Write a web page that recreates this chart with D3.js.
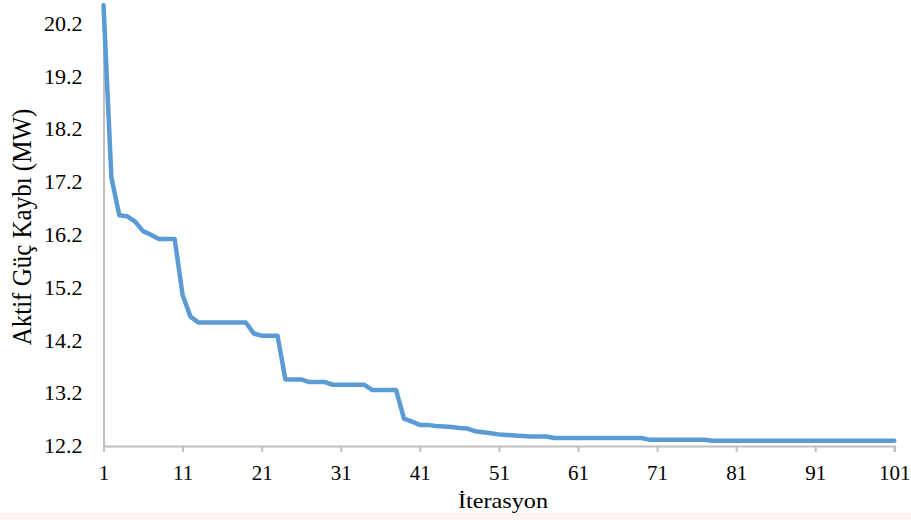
<!DOCTYPE html>
<html>
<head>
<meta charset="utf-8">
<script src="https://cdn.jsdelivr.net/npm/d3@7"></script>
<style>
  html, body { margin: 0; padding: 0; background: #ffffff; }
  svg { display: block; }
</style>
</head>
<body>
<svg id="chart" width="911" height="520"></svg>
<script>
// ---- data ----
const iterations = [
  1, 2, 3, 4, 5, 6, 7, 8, 9, 10,
  11, 12, 13, 14, 15, 16, 17, 18, 19, 20,
  21, 22, 23, 24, 25, 26, 27, 28, 29, 30,
  31, 32, 33, 34, 35, 36, 37, 38, 39, 40,
  41, 42, 43, 44, 45, 46, 47, 48, 49, 50,
  51, 52, 53, 54, 55, 56, 57, 58, 59, 60,
  61, 62, 63, 64, 65, 66, 67, 68, 69, 70,
  71, 72, 73, 74, 75, 76, 77, 78, 79, 80,
  81, 82, 83, 84, 85, 86, 87, 88, 89, 90,
  91, 92, 93, 94, 95, 96, 97, 98, 99, 100,
  101
];
const powerLoss = [
  20.55, 17.28, 16.57, 16.55, 16.45, 16.27, 16.20, 16.12, 16.12, 16.12,
  15.06, 14.65, 14.54, 14.54, 14.54, 14.54, 14.54, 14.54, 14.54, 14.33,
  14.29, 14.29, 14.29, 13.46, 13.46, 13.46, 13.41, 13.41, 13.41, 13.36,
  13.36, 13.36, 13.36, 13.36, 13.26, 13.26, 13.26, 13.26, 12.72, 12.66,
  12.60, 12.60, 12.58, 12.57, 12.56, 12.54, 12.53, 12.48, 12.46, 12.44,
  12.42, 12.41, 12.40, 12.39, 12.38, 12.38, 12.38, 12.35, 12.35, 12.35,
  12.35, 12.35, 12.35, 12.35, 12.35, 12.35, 12.35, 12.35, 12.35, 12.32,
  12.32, 12.32, 12.32, 12.32, 12.32, 12.32, 12.32, 12.30, 12.30, 12.30,
  12.30, 12.30, 12.30, 12.30, 12.30, 12.30, 12.30, 12.30, 12.30, 12.30,
  12.30, 12.30, 12.30, 12.30, 12.30, 12.30, 12.30, 12.30, 12.30, 12.30,
  12.30
];
const xTickValues = [1, 11, 21, 31, 41, 51, 61, 71, 81, 91, 101];
const yTickValues = [12.2, 13.2, 14.2, 15.2, 16.2, 17.2, 18.2, 19.2, 20.2];
const xTitle = "İterasyon";
const yTitle = "Aktif Güç Kaybı (MW)";

// ---- layout ----
const svg = d3.select("#chart");
const plotLeft = 103.5, plotRight = 894.3, plotTop = 2.5, plotBottom = 446;
const stretch = 1.1;
const fontFamily = "'Liberation Serif', 'Times New Roman', serif";

const x = d3.scaleLinear().domain([1, 101]).range([plotLeft, plotRight]);
const y = d3.scaleLinear().domain([12.2, 20.6]).range([plotBottom, plotTop]);

// faint band at bottom (scan artifact)
svg.append("rect").attr("x", 0).attr("y", 513).attr("width", 911).attr("height", 7)
  .attr("fill", "#fcf2f2");

// x axis
const xAxis = svg.append("g")
  .attr("transform", `translate(0,${plotBottom})`)
  .call(d3.axisBottom(x).tickValues(xTickValues).tickSize(6).tickPadding(13.5).tickFormat(d3.format("d")));
xAxis.select(".domain").attr("stroke", "#bfbfbf").attr("stroke-width", 2);
xAxis.selectAll(".tick line").attr("stroke", "#bfbfbf").attr("stroke-width", 2);
xAxis.selectAll(".tick text")
  .attr("font-family", fontFamily).attr("font-size", 21).attr("fill", "#000");

// y axis
const yAxis = svg.append("g")
  .attr("transform", `translate(${plotLeft},0)`)
  .call(d3.axisLeft(y).tickValues(yTickValues).tickSize(0).tickPadding(21).tickFormat(d3.format(".1f")));
yAxis.select(".domain").attr("stroke", "#bfbfbf").attr("stroke-width", 2);
yAxis.selectAll(".tick text")
  .attr("font-family", fontFamily).attr("font-size", 21).attr("fill", "#000")
  .attr("x", -21 / 1.05)
  .attr("transform", "scale(1.05,1)");

// line
const line = d3.line()
  .x((d, i) => x(iterations[i]))
  .y(d => y(d));
svg.append("path")
  .datum(powerLoss)
  .attr("fill", "none")
  .attr("stroke", "#5B9BD5")
  .attr("stroke-width", 4.5)
  .attr("stroke-linejoin", "round")
  .attr("stroke-linecap", "round")
  .attr("d", line);

// titles
svg.append("text")
  .attr("transform", `translate(503,508) scale(${stretch},1)`)
  .attr("text-anchor", "middle")
  .attr("font-family", fontFamily).attr("font-size", 22).attr("fill", "#000")
  .text(xTitle);

svg.append("text")
  .attr("transform", `translate(31,227) scale(${stretch},1) rotate(-90)`)
  .attr("text-anchor", "middle")
  .attr("font-family", fontFamily).attr("font-size", 25).attr("fill", "#000")
  .text(yTitle);
</script>
</body>
</html>
